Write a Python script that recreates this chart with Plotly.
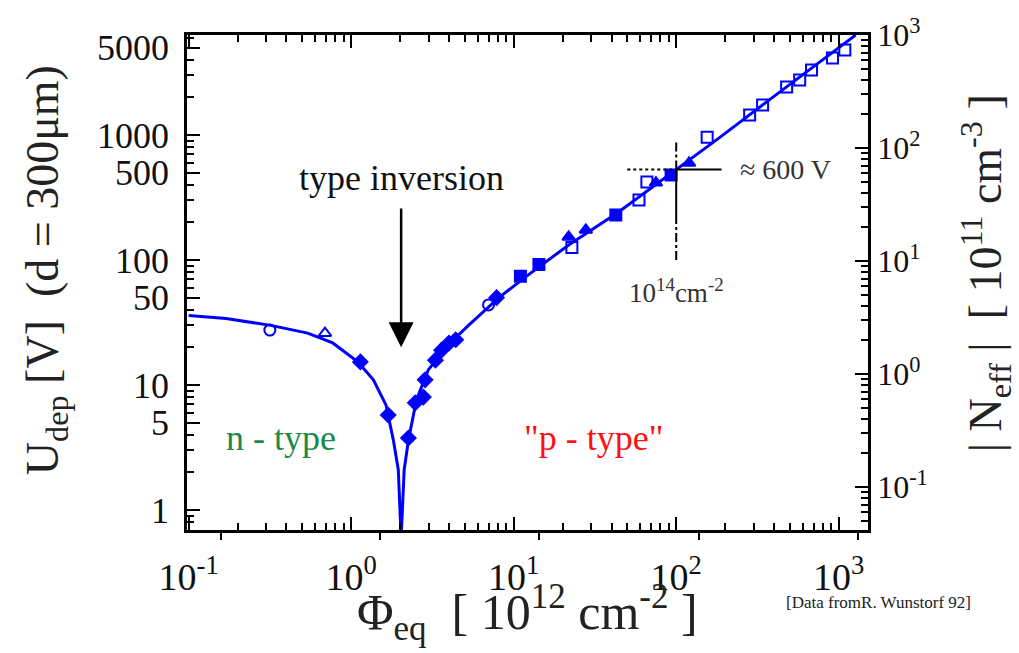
import math
import plotly.graph_objects as go

# Fluence in units of 1e12 cm^-2, depletion voltage in V (d = 300 um)
fit_phi = [0.1, 0.17, 0.32, 0.54, 0.77, 1.1, 1.37, 1.64, 1.82, 1.95, 2.03,
           2.12, 2.25, 2.52, 2.98, 3.97, 5.27, 8.1, 12.3, 21.8, 44, 100,
           183, 372, 760, 1270]
fit_u = [36, 34, 30, 26, 21.7, 15.3, 11, 6.9, 3.6, 2.1, 0.6,
         2.1, 3.6, 7.6, 13.2, 21, 30, 50, 76, 132, 241, 530,
         944, 1900, 3850, 6300]

circ_open_phi = [0.316, 7.0]
circ_open_u = [27.5, 43.7]

tri_open_phi = [0.69]
tri_open_u = [26]

diamond_phi = [1.14, 1.69, 2.25, 2.48, 2.78, 2.85, 3.3, 3.6, 4.0, 4.4, 7.85]
diamond_u = [15.3, 5.75, 3.77, 7.2, 8.0, 11, 15.8, 19, 21.7, 23, 50]

square_phi = [11.0, 14.3, 42.5, 93]
square_u = [74, 92, 229, 478]

tri_phi = [21.8, 27.8, 75, 120]
tri_u = [153, 174, 415, 597]

sq_open_phi = [22.8, 59, 66, 155, 283, 340, 478, 575, 680, 915, 1090]
sq_open_u = [126, 302, 420, 960, 1445, 1740, 2420, 2750, 3310, 4130, 4790]

# Axis ticks
u_ticks = [1, 5, 10, 50, 100, 500, 1000, 5000]
u_ticktext = ["1", "5", "10", "50", "100", "500", "1000", "5000"]
decade_ticks = [0.1, 1, 10, 100, 1000]
decade_text = ["10<sup>-1</sup>", "10<sup>0</sup>", "10<sup>1</sup>",
               "10<sup>2</sup>", "10<sup>3</sup>"]

# Reference point: 1e14 cm^-2 -> about 600 V
ref_phi = 100
ref_u = 530

BLUE = "#0000ff"
SERIF = "Liberation Serif, Times New Roman, serif"
X_RANGE = [-1.01, 3.18]
U_RANGE = [-0.16, 3.8]
CLEAR = "rgba(0,0,0,0)"

fig = go.Figure()

fig.add_trace(go.Scatter(x=fit_phi, y=fit_u, mode="lines",
                         line=dict(color=BLUE, width=3), hoverinfo="skip"))

marker_sets = [
    (circ_open_phi, circ_open_u, "circle-open"),
    (tri_open_phi, tri_open_u, "triangle-up-open"),
    (diamond_phi, diamond_u, "diamond"),
    (square_phi, square_u, "square"),
    (tri_phi, tri_u, "triangle-up"),
    (sq_open_phi, sq_open_u, "square-open"),
]
for px, py, sym in marker_sets:
    fig.add_trace(go.Scatter(
        x=px, y=py, mode="markers",
        marker=dict(symbol=sym, size=11, color=BLUE,
                    line=dict(color=BLUE, width=2))))

# Crosshair at the reference point
fig.add_shape(type="line", xref="x", yref="y", x0=50, x1=ref_phi,
              y0=ref_u, y1=ref_u, line=dict(color="black", width=2, dash="dot"))
fig.add_shape(type="line", xref="x", yref="y", x0=ref_phi, x1=190,
              y0=ref_u, y1=ref_u, line=dict(color="black", width=2))
fig.add_shape(type="line", xref="x", yref="y", x0=ref_phi, x1=ref_phi,
              y0=ref_u, y1=910, line=dict(color="black", width=2, dash="dashdot"))
fig.add_shape(type="line", xref="x", yref="y", x0=ref_phi, x1=ref_phi,
              y0=ref_u, y1=229, line=dict(color="black", width=2))
fig.add_shape(type="line", xref="x", yref="y", x0=ref_phi, x1=ref_phi,
              y0=229, y1=96, line=dict(color="black", width=2, dash="dashdot"))

L = math.log10
annotations = [
    # type inversion arrow
    dict(x=L(2.03), y=L(20), ax=L(2.03), ay=L(265), xref="x", yref="y",
         axref="x", ayref="y", text="", showarrow=True, arrowhead=2,
         arrowsize=2.0, arrowwidth=2.5, arrowcolor="black"),
    dict(x=L(2.03), y=L(453), xref="x", yref="y", text="type inversion",
         showarrow=False, font=dict(family=SERIF, size=36, color="#111")),
    dict(x=L(0.37), y=L(3.77), xref="x", yref="y", text="n - type",
         showarrow=False, font=dict(family=SERIF, size=36, color="#1a8a4a")),
    dict(x=L(31), y=L(3.77), xref="x", yref="y", text="\"p - type\"",
         showarrow=False, font=dict(family=SERIF, size=36, color="#ff1010")),
    dict(x=L(240), y=L(ref_u), xref="x", yref="y", text="\u2248 600 V",
         xanchor="left", showarrow=False,
         font=dict(family=SERIF, size=28, color="#333")),
    dict(x=L(ref_phi), y=L(56), xref="x", yref="y",
         text="10<sup>14</sup>cm<sup>-2</sup>", showarrow=False,
         font=dict(family=SERIF, size=27, color="#333")),
    # axis titles
    dict(x=-0.207, y=0.525, xref="paper", yref="paper", textangle=-90,
         xanchor="center", yanchor="middle",
         text="U<sub>dep</sub> [V]  (d = 300\u03bcm)", showarrow=False,
         font=dict(family=SERIF, size=46, color="#222")),
    dict(x=1.172, y=0.519, xref="paper", yref="paper", textangle=-90,
         xanchor="center", yanchor="middle",
         text="| N<sub>eff</sub> |  [ 10<sup>11</sup> cm<sup>-3</sup> ]",
         showarrow=False, font=dict(family=SERIF, size=46, color="#222")),
    dict(x=0.5, y=-0.166, xref="paper", yref="paper",
         xanchor="center", yanchor="middle",
         text="\u03a6<sub>eq</sub>  [ 10<sup>12</sup> cm<sup>-2</sup> ]",
         showarrow=False, font=dict(family=SERIF, size=50, color="#222")),
    dict(x=1.015, y=-0.147, xref="paper", yref="paper",
         xanchor="center", yanchor="middle",
         text="[Data fromR. Wunstorf 92]", showarrow=False,
         font=dict(family=SERIF, size=17, color="#222")),
]

major = dict(ticks="inside", ticklen=13, tickwidth=2, tickcolor="black")
minor = dict(ticks="inside", ticklen=7, tickwidth=2, tickcolor="black",
             dtick="D1", showgrid=False)

fig.update_layout(
    width=1019, height=653,
    margin=dict(l=187, r=151, t=35, b=123),
    paper_bgcolor="white", plot_bgcolor="white",
    showlegend=False,
    annotations=annotations,
    # bottom axis: frame, labels and inside ticks
    xaxis=dict(
        type="log", range=X_RANGE, showgrid=False, zeroline=False,
        showline=True, linecolor="black", linewidth=2.5, mirror=True,
        minor=minor, tickmode="array", tickvals=decade_ticks,
        ticktext=decade_text, ticklabelstandoff=12,
        tickfont=dict(family=SERIF, size=38, color="#111"), **major,
    ),
    # left axis: frame and labels
    yaxis=dict(
        type="log", range=U_RANGE, showgrid=False, zeroline=False,
        showline=True, linecolor="black", linewidth=2.5,
        ticks="", tickmode="array", tickvals=u_ticks, ticktext=u_ticktext,
        ticklabelstandoff=8,
        tickfont=dict(family=SERIF, size=36, color="#111"),
    ),
    # short outside marks under the bottom axis
    xaxis2=dict(
        type="log", range=[-1.213, 3.063], overlaying="x", side="bottom",
        anchor="y", showgrid=False, zeroline=False, showline=False,
        ticks="outside", ticklen=9, tickwidth=2, tickcolor="black",
        tickmode="array", tickvals=decade_ticks, showticklabels=False,
    ),
    # inside ticks along the top edge
    xaxis4=dict(type="log", range=X_RANGE, overlaying="x", side="top",
                anchor="y", showline=False, showticklabels=True,
                tickfont=dict(color=CLEAR, size=10),
                showgrid=False, zeroline=False, minor=minor,
                tickmode="array", tickvals=decade_ticks, **major),
    # inside ticks along the left edge
    yaxis3=dict(type="log", range=U_RANGE, overlaying="y", side="left",
                anchor="x", showline=True, linecolor="black", linewidth=2.5,
                showticklabels=False, showgrid=False, zeroline=False,
                minor=minor, tickmode="array", tickvals=u_ticks, **major),
    # right-hand |N_eff| scale
    yaxis2=dict(
        type="log", range=[-1.38, 3.001], overlaying="y", side="right",
        anchor="x", showline=True, linecolor="black", linewidth=2.5,
        showgrid=False, zeroline=False, minor=minor,
        tickmode="array", tickvals=decade_ticks, ticktext=decade_text,
        tickfont=dict(family=SERIF, size=32, color="#111"), **major,
    ),
)

# Invisible traces so the overlay axes are drawn
for xa, ya in [("x2", "y"), ("x4", "y"), ("x", "y3"), ("x", "y2")]:
    fig.add_trace(go.Scatter(x=[1], y=[1], xaxis=xa, yaxis=ya, mode="markers",
                             marker=dict(opacity=0), hoverinfo="skip"))

fig.write_html("out.html")
